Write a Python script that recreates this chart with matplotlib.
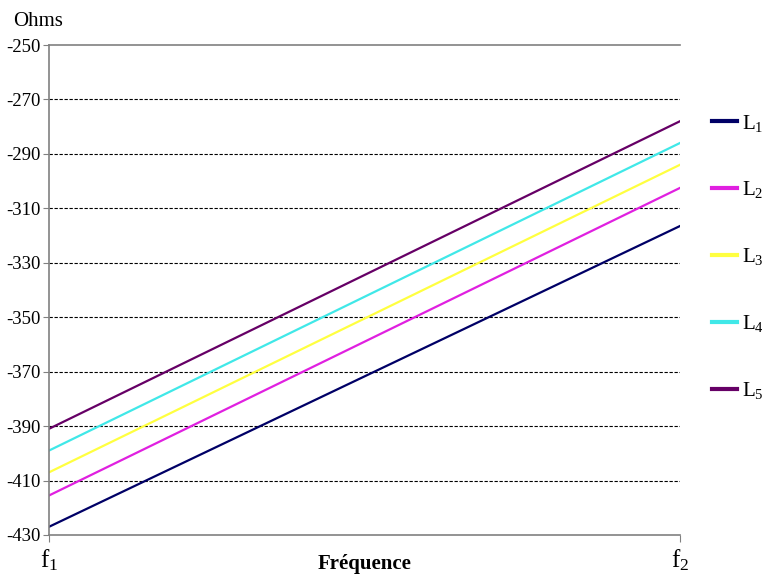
import numpy as np
import matplotlib
matplotlib.use("Agg")
import matplotlib.pyplot as plt

plt.rcParams['font.family'] = ['Liberation Serif', 'DejaVu Serif']
plt.rcParams['mathtext.fontset'] = 'custom'
plt.rcParams['mathtext.rm'] = 'Liberation Serif'
plt.rcParams['mathtext.it'] = 'Liberation Serif'

# data: value at f1 and at f2
x_pos = [0, 1]
x_labels = [r'f$_1$', r'f$_2$']
series_names = [r'L$_1$', r'L$_2$', r'L$_3$', r'L$_4$', r'L$_5$']
l1 = [-427, -316.5]
l2 = [-415.5, -302.5]
l3 = [-407, -294]
l4 = [-399, -286]
l5 = [-391, -278]
colors = ['#000066', '#E020E0', '#FFFF40', '#40E8E8', '#660066']
y_ticks = np.arange(-430, -249, 20)

fig = plt.figure(figsize=(7.63, 5.74), dpi=100)
ax = fig.add_axes([0.0642, 0.068, 0.827, 0.8536])

for vals, name, c in zip([l1, l2, l3, l4, l5], series_names, colors):
    ax.plot(x_pos, vals, color=c, lw=1.6, label=name)

ax.set_xlim(0, 1)
ax.set_ylim(-430, -250)
ax.set_yticks(y_ticks)
ax.set_yticklabels([str(v) for v in y_ticks], fontsize=13.5)
ax.set_xticks(x_pos)
ax.set_xticklabels(x_labels, fontsize=18)
ax.tick_params(axis='y', length=4, color='#808080', pad=2)
ax.tick_params(axis='x', length=5, color='#808080', pad=4, direction='out')

for v in y_ticks[1:-1]:
    ax.axhline(v, color='black', lw=0.8, ls=(0, (3, 1.5)), zorder=0)

for s in ['left', 'bottom', 'top']:
    ax.spines[s].set_color('#808080')
    ax.spines[s].set_linewidth(1.2)
ax.spines['right'].set_visible(False)

ax.set_xlabel('Fréquence', fontsize=15, fontweight='bold', labelpad=-14)
fig.text(0.017, 0.955, 'Ohms', fontsize=15)

leg = ax.legend(loc='upper left', bbox_to_anchor=(1.05, 0.862), frameon=False,
                fontsize=15, handlelength=1.2, handletextpad=0.25,
                labelspacing=2.2, borderaxespad=0, borderpad=0)
for h in leg.get_lines():
    h.set_linewidth(3)

fig.savefig('out.png', dpi=100)
